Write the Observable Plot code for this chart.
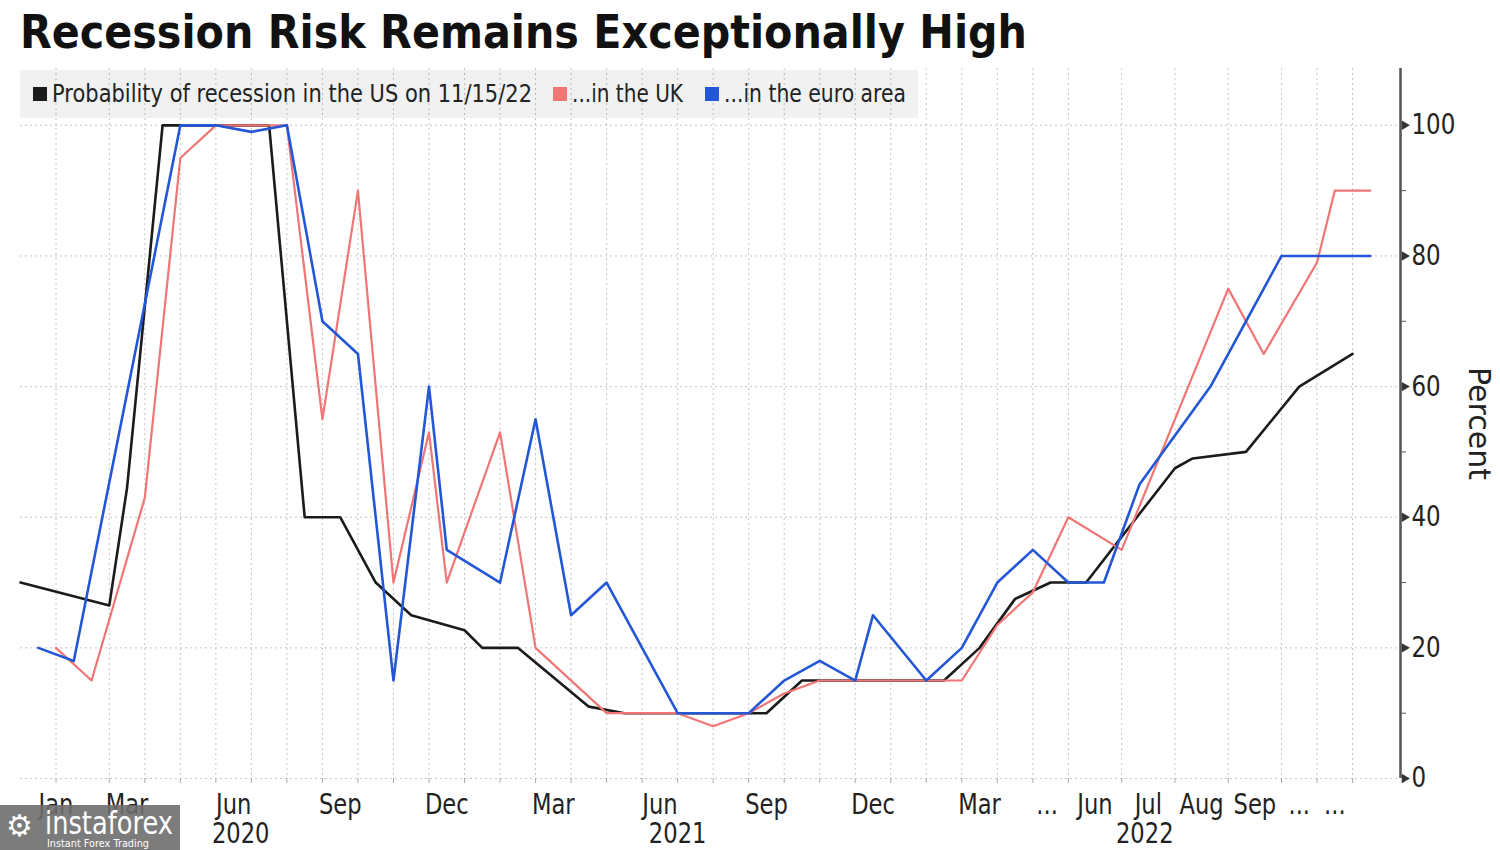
<!DOCTYPE html>
<html><head><meta charset="utf-8">
<script src="https://cdn.jsdelivr.net/npm/d3@7"></script>
<script src="https://cdn.jsdelivr.net/npm/@observablehq/plot@0.6"></script>
<style>
body{margin:0;background:#fff;}
#wrap{position:relative;width:1500px;height:850px;overflow:hidden;font-family:"DejaVu Sans",sans-serif;}
#title{height:60px;position:relative;}
#title span{position:absolute;left:20px;top:9px;font-weight:bold;font-size:46px;line-height:46px;color:#111;white-space:nowrap;transform-origin:0 0;}
#legend{position:absolute;left:20px;top:70px;width:898px;height:48px;background:rgba(0,0,0,0.055);}
.sw{position:absolute;top:17px;width:14px;height:14px;}
.lt{position:absolute;top:12px;font-size:24.5px;line-height:24.5px;color:#222;white-space:nowrap;transform-origin:0 0;}
#wm{position:absolute;left:0;top:805px;width:180px;height:45px;background:rgba(110,110,110,0.9);color:#fff;}
#wm .g{position:absolute;left:6px;top:6px;font-size:30px;line-height:30px;}
#wm .b{position:absolute;left:45px;top:5px;font-size:32px;line-height:27px;font-family:"Liberation Sans Narrow","DejaVu Sans";white-space:nowrap;transform-origin:0 0;}
#wm .s{position:absolute;left:47px;top:33px;font-size:11px;line-height:11px;font-family:"Liberation Sans Narrow","DejaVu Sans";white-space:nowrap;transform-origin:0 0;}
</style></head>
<body>
<div id="wrap">
  <div id="title"><span data-w="1007">Recession Risk Remains Exceptionally High</span></div>
  <div id="chart"></div>
  <div id="legend"></div>
  <div id="wm"><span class="g">⚙</span><span class="b" data-w="128">instaforex</span><span class="s" data-w="102">Instant Forex Trading</span></div>
</div>
<script>
// ---- data (x = survey slot index along the axis, y = probability in percent) ----
const seriesNames = ["Probability of recession in the US on 11/15/22", "...in the UK", "...in the euro area"];
const seriesColors = ["#1b1b1b", "#f07575", "#2457d6"];

const usK = [0, 5, 6, 8, 14, 16, 18, 20, 22, 25, 26, 28, 32, 34, 42, 44, 52, 54, 56, 58, 60, 65, 66, 69, 72, 75];
const usV = [30, 26.5, 44.5, 100, 100, 40, 40, 30, 25, 22.7, 20, 20, 11, 10, 10, 15, 15, 20, 27.5, 30, 30, 47.5, 49, 50, 60, 65];

const ukK = [2, 4, 7, 9, 11, 15, 17, 19, 21, 23, 24, 27, 29, 33, 37, 39, 41, 43, 45, 53, 55, 57, 59, 62, 68, 70, 73, 74, 76];
const ukV = [20, 15, 43, 95, 100, 100, 55, 90, 30, 53, 30, 53, 20, 10, 10, 8, 10, 13, 15, 15, 23.5, 28.5, 40, 35, 75, 65, 79, 90, 90];

const euK = [1, 3, 9, 11, 13, 15, 17, 19, 21, 23, 24, 27, 29, 31, 33, 37, 41, 43, 45, 47, 48, 51, 53, 55, 57, 59, 61, 63, 67, 71, 76];
const euV = [20, 18, 100, 100, 99, 100, 70, 65, 15, 60, 35, 30, 55, 25, 30, 10, 10, 15, 18, 15, 25, 15, 20, 30, 35, 30, 30, 45, 60, 80, 80];

// month boundaries (grid lines / ticks)
const gridK = [2, 5, 7, 9, 11, 13, 15, 17, 19, 21, 23, 25, 27, 29, 31, 33, 35, 37, 39, 41, 43, 45, 47, 49, 51, 53, 55, 57, 59, 62, 65, 68, 71, 73, 75];
// month tick labels
const monthPos = [2, 6, 12, 18, 24, 30, 36, 42, 48, 54, 57.8, 60.5, 63.5, 66.5, 69.5, 72, 74];
const monthLbl = ["Jan", "Mar", "Jun", "Sep", "Dec", "Mar", "Jun", "Sep", "Dec", "Mar", "...", "Jun", "Jul", "Aug", "Sep", "...", "..."];
// year labels
const yearPos = [12.4, 37, 63.3];
const yearLbl = ["2020", "2021", "2022"];
// y ticks
const yTicks = [0, 20, 40, 60, 80, 100];
const yMinor = [10, 30, 50, 70, 90];
const yLabel = "Percent";

const xDomain = [0, 77.7];
const yDomain = [0, 108.7];

// ---- build ----
const toRows = (ks, vs) => ks.map((k, i) => ({k, v: vs[i]}));
const us = toRows(usK, usV), uk = toRows(ukK, ukV), eu = toRows(euK, euV);
const monthMap = new Map(monthPos.map((p, i) => [p, monthLbl[i]]));
const yearMap = new Map(yearPos.map((p, i) => [p, yearLbl[i]]));
const xMax = xDomain[1];

const chart = Plot.plot({
  width: 1500, height: 790,
  marginTop: 8, marginBottom: 72, marginLeft: 20, marginRight: 100,
  x: {domain: xDomain},
  y: {domain: yDomain},
  style: {fontFamily: "DejaVu Sans", color: "#222", background: "transparent", fontSize: "29px"},
  marks: [
    Plot.ruleX(gridK, {stroke: "#c4c4c4", strokeDasharray: "2,3"}),
    Plot.ruleY(yTicks, {stroke: "#c4c4c4", strokeDasharray: "2,3"}),
    Plot.axisX({ticks: gridK, tickSize: 5, tickFormat: () => "", stroke: "#aaa", label: null}),
    Plot.axisX({ticks: monthPos, tickSize: 0, tickPadding: 15, tickFormat: d => monthMap.get(d), fontSize: 29, label: null, fill: "#222"}),
    Plot.axisX({ticks: yearPos, tickSize: 0, tickPadding: 44, tickFormat: d => yearMap.get(d), fontSize: 29, label: null, fill: "#222"}),
    Plot.axisY({anchor: "right", ticks: yTicks, tickSize: 0, tickPadding: 11, fontSize: 28, label: null, fill: "#222"}),
    Plot.axisY({anchor: "right", ticks: yMinor, tickSize: 5, tickFormat: () => "", label: null, stroke: "#555"}),
    Plot.ruleX([xMax], {stroke: "#555", strokeWidth: 2.5}),
    Plot.dot(yTicks, {x: () => xMax, y: d => d, symbol: "triangle", rotate: 90, r: 3.5, fill: "#333", dx: 4}),
    Plot.text([yLabel], {frameAnchor: "right", textAnchor: "middle", dx: 78, rotate: 90, fontSize: 30, fill: "#222"}),
    Plot.line(us, {x: "k", y: "v", stroke: seriesColors[0], strokeWidth: 2.6}),
    Plot.line(uk, {x: "k", y: "v", stroke: seriesColors[1], strokeWidth: 2.2}),
    Plot.line(eu, {x: "k", y: "v", stroke: seriesColors[2], strokeWidth: 2.6})
  ]
});
document.getElementById("chart").appendChild(chart);

// condense axis text a little (the reference font is narrow)
const squeeze = (sel, f) => chart.querySelectorAll(sel).forEach(t => {
  const w = t.getComputedTextLength();
  if (w > 0) { t.setAttribute("textLength", w * f); t.setAttribute("lengthAdjust", "spacingAndGlyphs"); }
});
squeeze('g[aria-label="x-axis tick label"] text', 0.78);
squeeze('g[aria-label="y-axis tick label"] text', 0.82);

// legend
const legend = document.getElementById("legend");
const swX = [13, 533, 685], txX = [32, 552, 704], txW = [480, 111, 182];
seriesNames.forEach((n, i) => {
  const s = document.createElement("div");
  s.className = "sw"; s.style.left = swX[i] + "px"; s.style.background = seriesColors[i];
  legend.appendChild(s);
  const t = document.createElement("span");
  t.className = "lt"; t.style.left = txX[i] + "px"; t.textContent = n; t.dataset.w = txW[i];
  legend.appendChild(t);
});
// fit narrow text widths
document.querySelectorAll("[data-w]").forEach(el => {
  const w = el.getBoundingClientRect().width;
  el.style.transform = `scaleX(${(+el.dataset.w) / w})`;
});
</script>
</body></html>
